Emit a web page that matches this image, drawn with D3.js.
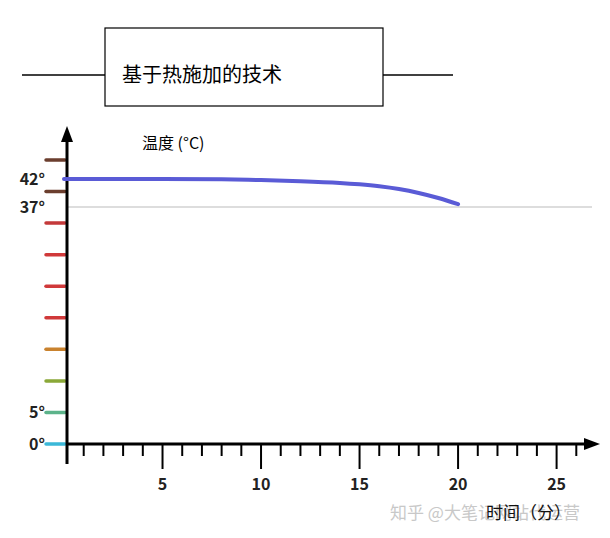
<!DOCTYPE html>
<html><head><meta charset="utf-8">
<script src="https://cdn.jsdelivr.net/npm/d3@7"></script>
<style>body{margin:0;background:#fff}text{font-family:"Noto Sans CJK SC","Noto Sans",sans-serif}</style>
</head><body><svg id="c" width="610" height="538"></svg>
<script>
const times = [0, 5, 8, 10, 12, 14, 15, 16, 17, 18, 19, 20];
const temps = [42, 42, 41.95, 41.8, 41.6, 41.3, 41.05, 40.7, 40.2, 39.5, 38.6, 37.5];
const xTicks = [5, 10, 15, 20, 25];
const tempLabels = [{v: 0, t: "0°"}, {v: 5, t: "5°"}, {v: 37, t: "37°"}, {v: 42, t: "42°"}];
const scaleColors = ["#3bb8d8", "#5cb38a", "#8aa838", "#c9822e", "#d0393a", "#d0393a", "#d0393a", "#c4393a", "#6b3e2e", "#6b3e2e"];

const svg = d3.select("#c");
const x = d3.scaleLinear().domain([0, 27]).range([64, 596]);
const y = d3.scaleLinear().domain([0, 5, 37, 42]).range([444, 412, 207, 179]);
const yIdx = d3.scaleLinear().domain([0, 9]).range([444, 160]);

// title box
svg.append("line").attr("x1", 22).attr("x2", 105).attr("y1", 75).attr("y2", 75).attr("stroke", "#000").attr("stroke-width", 1.5);
svg.append("line").attr("x1", 383).attr("x2", 453).attr("y1", 75).attr("y2", 75).attr("stroke", "#000").attr("stroke-width", 1.5);
svg.append("rect").attr("x", 105).attr("y", 28).attr("width", 278).attr("height", 78).attr("fill", "#fff").attr("stroke", "#000").attr("stroke-width", 1.2);
svg.append("text").attr("x", 122).attr("y", 82).attr("font-size", 20).text("基于热施加的技术");

// 37 reference line
svg.append("line").attr("x1", 67).attr("x2", 592).attr("y1", y(37)).attr("y2", y(37)).attr("stroke", "#aaa").attr("stroke-width", 0.8);

// colored scale ticks
svg.selectAll("line.sc").data(scaleColors).enter().append("line")
  .attr("x1", 46).attr("x2", 65).attr("y1", (d, i) => yIdx(i)).attr("y2", (d, i) => yIdx(i))
  .attr("stroke", d => d).attr("stroke-width", 3.5).attr("stroke-linecap", "round");

// axes
svg.append("line").attr("x1", 67).attr("x2", 67).attr("y1", 138).attr("y2", 464).attr("stroke", "#000").attr("stroke-width", 3);
svg.append("path").attr("d", "M67,126 L61,142 L73,142 Z").attr("fill", "#000");
svg.append("line").attr("x1", 67).attr("x2", 588).attr("y1", 444).attr("y2", 444).attr("stroke", "#000").attr("stroke-width", 3);
svg.append("path").attr("d", "M600,444 L584,438 L584,450 Z").attr("fill", "#000");

svg.selectAll("line.xt").data(d3.range(1, 27)).enter().append("line")
  .attr("x1", d => x(d)).attr("x2", d => x(d)).attr("y1", 444)
  .attr("y2", d => d % 5 === 0 ? 469 : 456).attr("stroke", "#000").attr("stroke-width", 2);
svg.selectAll("text.xl").data(xTicks).enter().append("text")
  .attr("x", d => x(d)).attr("y", 490).attr("text-anchor", "middle")
  .attr("font-size", 16).attr("font-weight", "bold").attr("fill", "#222").text(d => d);

svg.selectAll("text.yl").data(tempLabels).enter().append("text")
  .attr("x", 45).attr("y", d => y(d.v) + 6).attr("text-anchor", "end")
  .attr("font-size", 16).attr("font-weight", "bold").attr("fill", "#222").text(d => d.t);

svg.append("text").attr("x", 142).attr("y", 149).attr("font-size", 16).text("温度  (°C)");

// curve
const line = d3.line().x((d, i) => x(times[i])).y(d => y(d)).curve(d3.curveCatmullRom);
svg.append("path").datum(temps).attr("d", line).attr("fill", "none")
  .attr("stroke", "#5a5bd6").attr("stroke-width", 4).attr("stroke-linecap", "round");

svg.append("text").attr("x", 390).attr("y", 519).attr("font-size", 17).attr("fill", "#bbb").attr("opacity", 0.8).text("知乎 @大笔记网站代运营");
svg.append("text").attr("x", 486).attr("y", 519).attr("font-size", 17).attr("fill", "#111").text("时间（分）");
</script></body></html>
